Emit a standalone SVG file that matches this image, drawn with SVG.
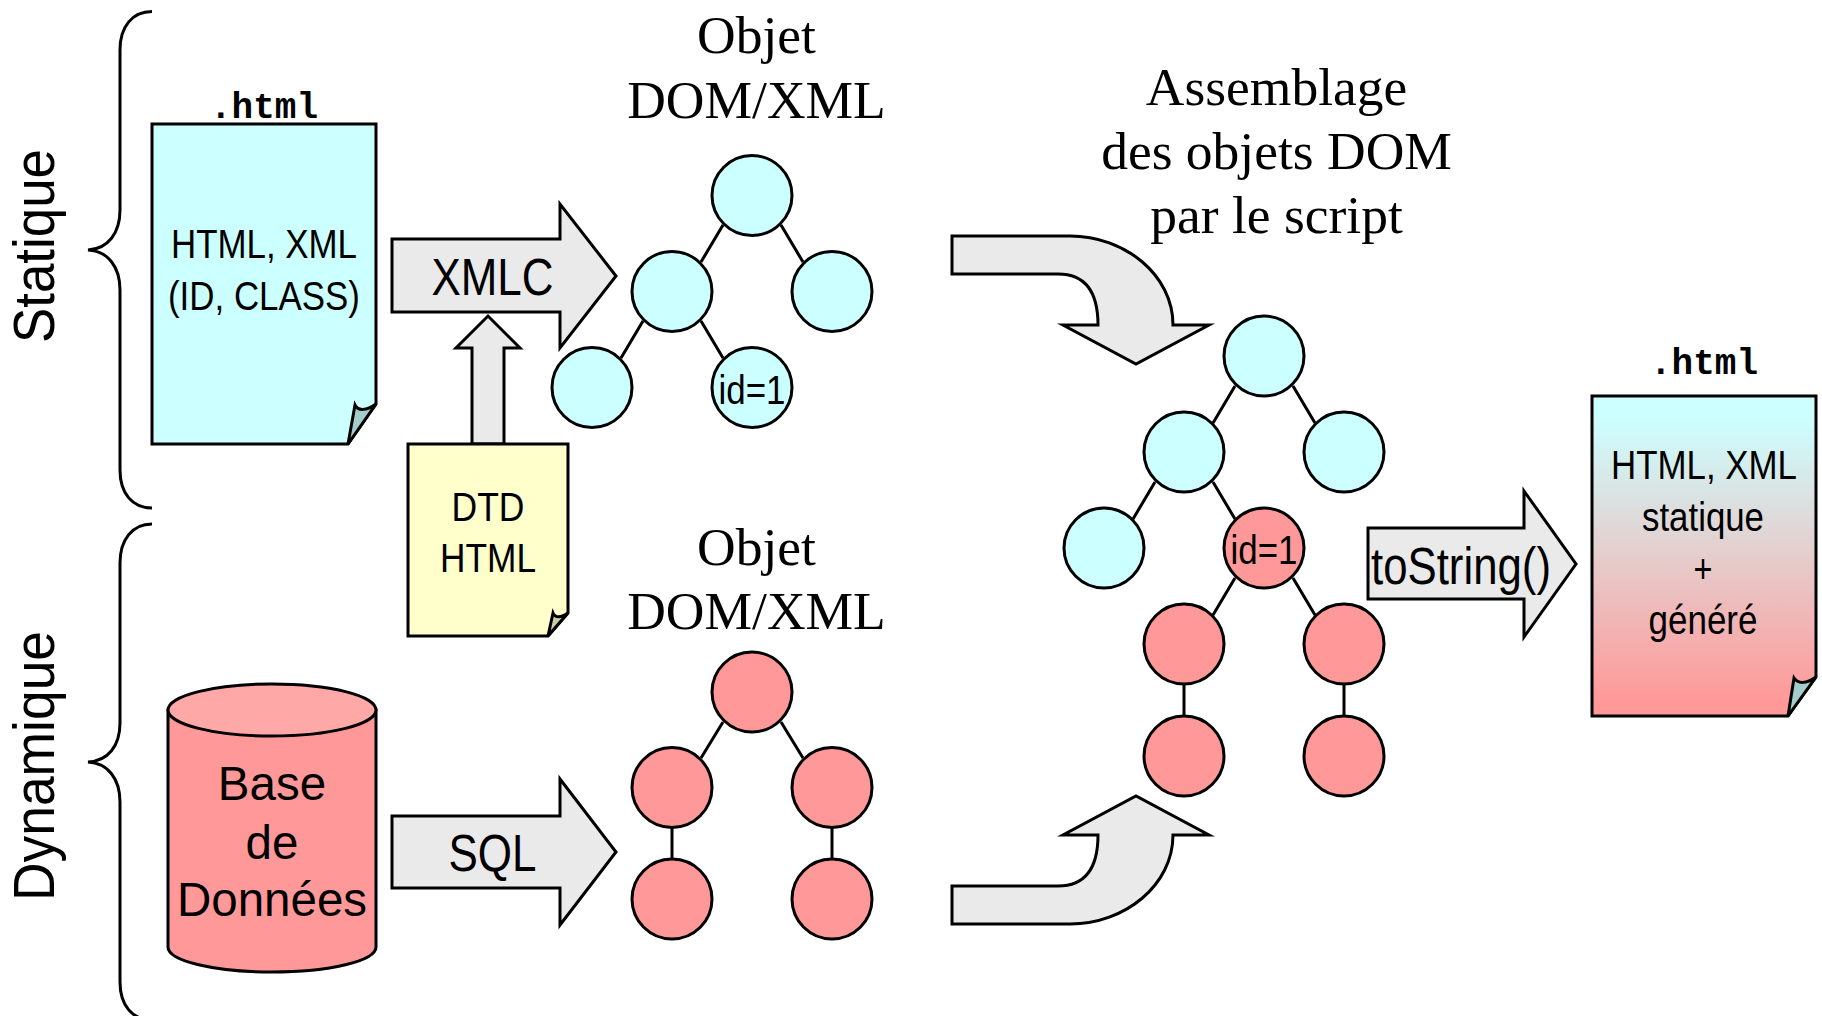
<svg xmlns="http://www.w3.org/2000/svg" width="1822" height="1016" viewBox="0 0 1822 1016">
<style>
.l{fill:none;stroke:#000;stroke-width:3}
.c{fill:#ccffff;stroke:#000;stroke-width:3}
.r{fill:#ff9999;stroke:#000;stroke-width:3}
.g{fill:#eaeaea;stroke:#000;stroke-width:3;stroke-miterlimit:10}
.h{font-family:"Liberation Sans",Arial,sans-serif;fill:#000}
.t{font-family:"Liberation Serif","Times New Roman",serif;font-size:53.5px;fill:#000;text-anchor:middle}
.m{font-family:"Liberation Mono","Courier New",monospace;font-weight:bold;font-size:36px;fill:#000}
</style>
<defs>
<linearGradient id="grad" x1="0" y1="0" x2="0" y2="1">
<stop offset="0" stop-color="#ccffff"/><stop offset="0.06" stop-color="#ccffff"/><stop offset="0.95" stop-color="#ff9999"/><stop offset="1" stop-color="#ff9999"/>
</linearGradient>
</defs>
<g id="brace-statique"><path class="l" d="M152,11.500C132,11.500 120,27 120,50V210C120,233 108,249 88,250C108,251 120,267 120,290V470C120,493 132,508 152,508"/>
<text class="h" font-size="57" transform="translate(54,246) rotate(-90)" text-anchor="middle" textLength="194" lengthAdjust="spacingAndGlyphs">Statique</text></g>
<g id="brace-dynamique"><path class="l" d="M152,524C132,524 120,540 120,563V723C120,746 108,761 88,762C108,763 120,779 120,802V982C120,1005 132,1020 152,1020"/>
<text class="h" font-size="57" transform="translate(54,766) rotate(-90)" text-anchor="middle" textLength="270" lengthAdjust="spacingAndGlyphs">Dynamique</text></g>
<g id="connectors">
<path class="g" d="M392,239H560V204L616,276L560,348V312H392Z"/>
<path class="g" d="M472,444V348H456L488,316L520,348H504V444Z"/>
<path class="g" d="M392,816H560V779L616,852L560,925V888H392Z"/>
<path class="g" d="M1368,528H1524V491L1576,564L1524,637V599H1368Z"/>
<path class="g" d="M952,236H1070C1125,236 1173,275 1173,325H1209L1136,364L1063,325H1098C1098,292 1085,274 1058,274H952Z"/>
<path class="g" d="M952,924H1070C1125,924 1173,885 1173,835H1209L1136,796L1063,835H1098C1098,868 1085,886 1058,886H952Z"/>
<path class="l" d="M723,225L701,262M781,225L803,262M643,321L621,358M701,321L723,358"/>
<path class="l" d="M723,722L701,758M781,722L803,758M672,827V859M832,827V859"/>
<path class="l" d="M1235,386L1213,423M1293,386L1315,423M1155,482L1133,519M1213,482L1235,519M1235,578L1213,615M1293,578L1315,615M1184,684V716M1344,684V716"/>
</g>
<g id="doc-html"><path class="c" d="M152,124H376V404L348,444H152Z"/><path d="M376,404C366,411 358,411 355,405L348,444Z" fill="#a3cccc" stroke="#000" stroke-width="3"/>
<text class="m" x="264" y="118" text-anchor="middle">.html</text>
<text class="h" font-size="40.500" x="264" y="258" text-anchor="middle" textLength="186" lengthAdjust="spacingAndGlyphs">HTML, XML</text>
<text class="h" font-size="40.500" x="264" y="310" text-anchor="middle" textLength="192" lengthAdjust="spacingAndGlyphs">(ID, CLASS)</text></g>
<g id="doc-dtd"><path d="M408,444H568V613L548,636H408Z" fill="#ffffcc" stroke="#000" stroke-width="3"/><path d="M568,613C561,618 555,618 553,613L548,636Z" fill="#cccca3" stroke="#000" stroke-width="3"/>
<text class="h" font-size="41" x="488" y="521" text-anchor="middle" textLength="73" lengthAdjust="spacingAndGlyphs">DTD</text>
<text class="h" font-size="41" x="488" y="572" text-anchor="middle" textLength="96" lengthAdjust="spacingAndGlyphs">HTML</text></g>
<g id="db"><path class="r" d="M168,710V947C168,961 215,972 272,972C329,972 376,961 376,947V710Z"/><ellipse cx="272" cy="710" rx="104" ry="26" fill="#ffa8a8" stroke="#000" stroke-width="3"/>
<text class="h" font-size="47.500" x="272" y="800" text-anchor="middle">Base</text>
<text class="h" font-size="47.500" x="272" y="859" text-anchor="middle">de</text>
<text class="h" font-size="47.500" x="272" y="915.500" text-anchor="middle">Données</text></g>
<text id="lbl-xmlc" class="h" font-size="51" x="492.500" y="295" text-anchor="middle" textLength="122" lengthAdjust="spacingAndGlyphs">XMLC</text>
<text id="lbl-sql" class="h" font-size="51" x="492.500" y="871" text-anchor="middle" textLength="88" lengthAdjust="spacingAndGlyphs">SQL</text>
<text id="lbl-tostring" class="h" font-size="51" x="1461" y="584" text-anchor="middle" textLength="180" lengthAdjust="spacingAndGlyphs">toString()</text>
<g id="t1"><text class="t" x="756.500" y="53">Objet</text><text class="t" x="756.500" y="118">DOM/XML</text></g>
<g id="t2"><text class="t" x="756.500" y="565">Objet</text><text class="t" x="756.500" y="629">DOM/XML</text></g>
<g id="t3"><text class="t" x="1276.500" y="105">Assemblage</text><text class="t" x="1276.500" y="169">des objets DOM</text><text class="t" x="1276.500" y="233">par le script</text></g>
<g id="tree-top">
<circle class="c" cx="752" cy="195.500" r="40"/><circle class="c" cx="672" cy="291.500" r="40"/><circle class="c" cx="832" cy="291.500" r="40"/><circle class="c" cx="592" cy="387.500" r="40"/><circle class="c" cx="752" cy="387.500" r="40"/>
<text class="h" font-size="40" x="752" y="404" text-anchor="middle" textLength="67" lengthAdjust="spacingAndGlyphs">id=1</text></g>
<g id="tree-bottom">
<circle class="r" cx="752" cy="692" r="40"/><circle class="r" cx="672" cy="787.500" r="40"/><circle class="r" cx="832" cy="787.500" r="40"/><circle class="r" cx="672" cy="899" r="40"/><circle class="r" cx="832" cy="899" r="40"/></g>
<g id="tree-right">
<circle class="c" cx="1264" cy="356" r="40"/><circle class="c" cx="1184" cy="452" r="40"/><circle class="c" cx="1344" cy="452" r="40"/><circle class="c" cx="1104" cy="548" r="40"/><circle class="r" cx="1264" cy="548" r="40"/><circle class="r" cx="1184" cy="644" r="40"/><circle class="r" cx="1344" cy="644" r="40"/><circle class="r" cx="1184" cy="756" r="40"/><circle class="r" cx="1344" cy="756" r="40"/>
<text class="h" font-size="40" x="1264" y="564" text-anchor="middle" textLength="67" lengthAdjust="spacingAndGlyphs">id=1</text></g>
<g id="doc-out"><path d="M1592,396H1816V677L1788,716H1592Z" fill="url(#grad)" stroke="#000" stroke-width="3"/><path d="M1816,677C1806,684 1798,684 1794,678L1788,716Z" fill="#a3cccc" stroke="#000" stroke-width="3"/>
<text class="m" x="1704" y="374" text-anchor="middle">.html</text>
<text class="h" font-size="40.500" x="1704" y="479" text-anchor="middle" textLength="186" lengthAdjust="spacingAndGlyphs">HTML, XML</text>
<text class="h" font-size="40.500" x="1703" y="531" text-anchor="middle" textLength="122" lengthAdjust="spacingAndGlyphs">statique</text>
<text class="h" font-size="40.500" x="1703" y="583" text-anchor="middle" textLength="19" lengthAdjust="spacingAndGlyphs">+</text>
<text class="h" font-size="40.500" x="1703" y="634" text-anchor="middle" textLength="109" lengthAdjust="spacingAndGlyphs">généré</text></g>
</svg>
